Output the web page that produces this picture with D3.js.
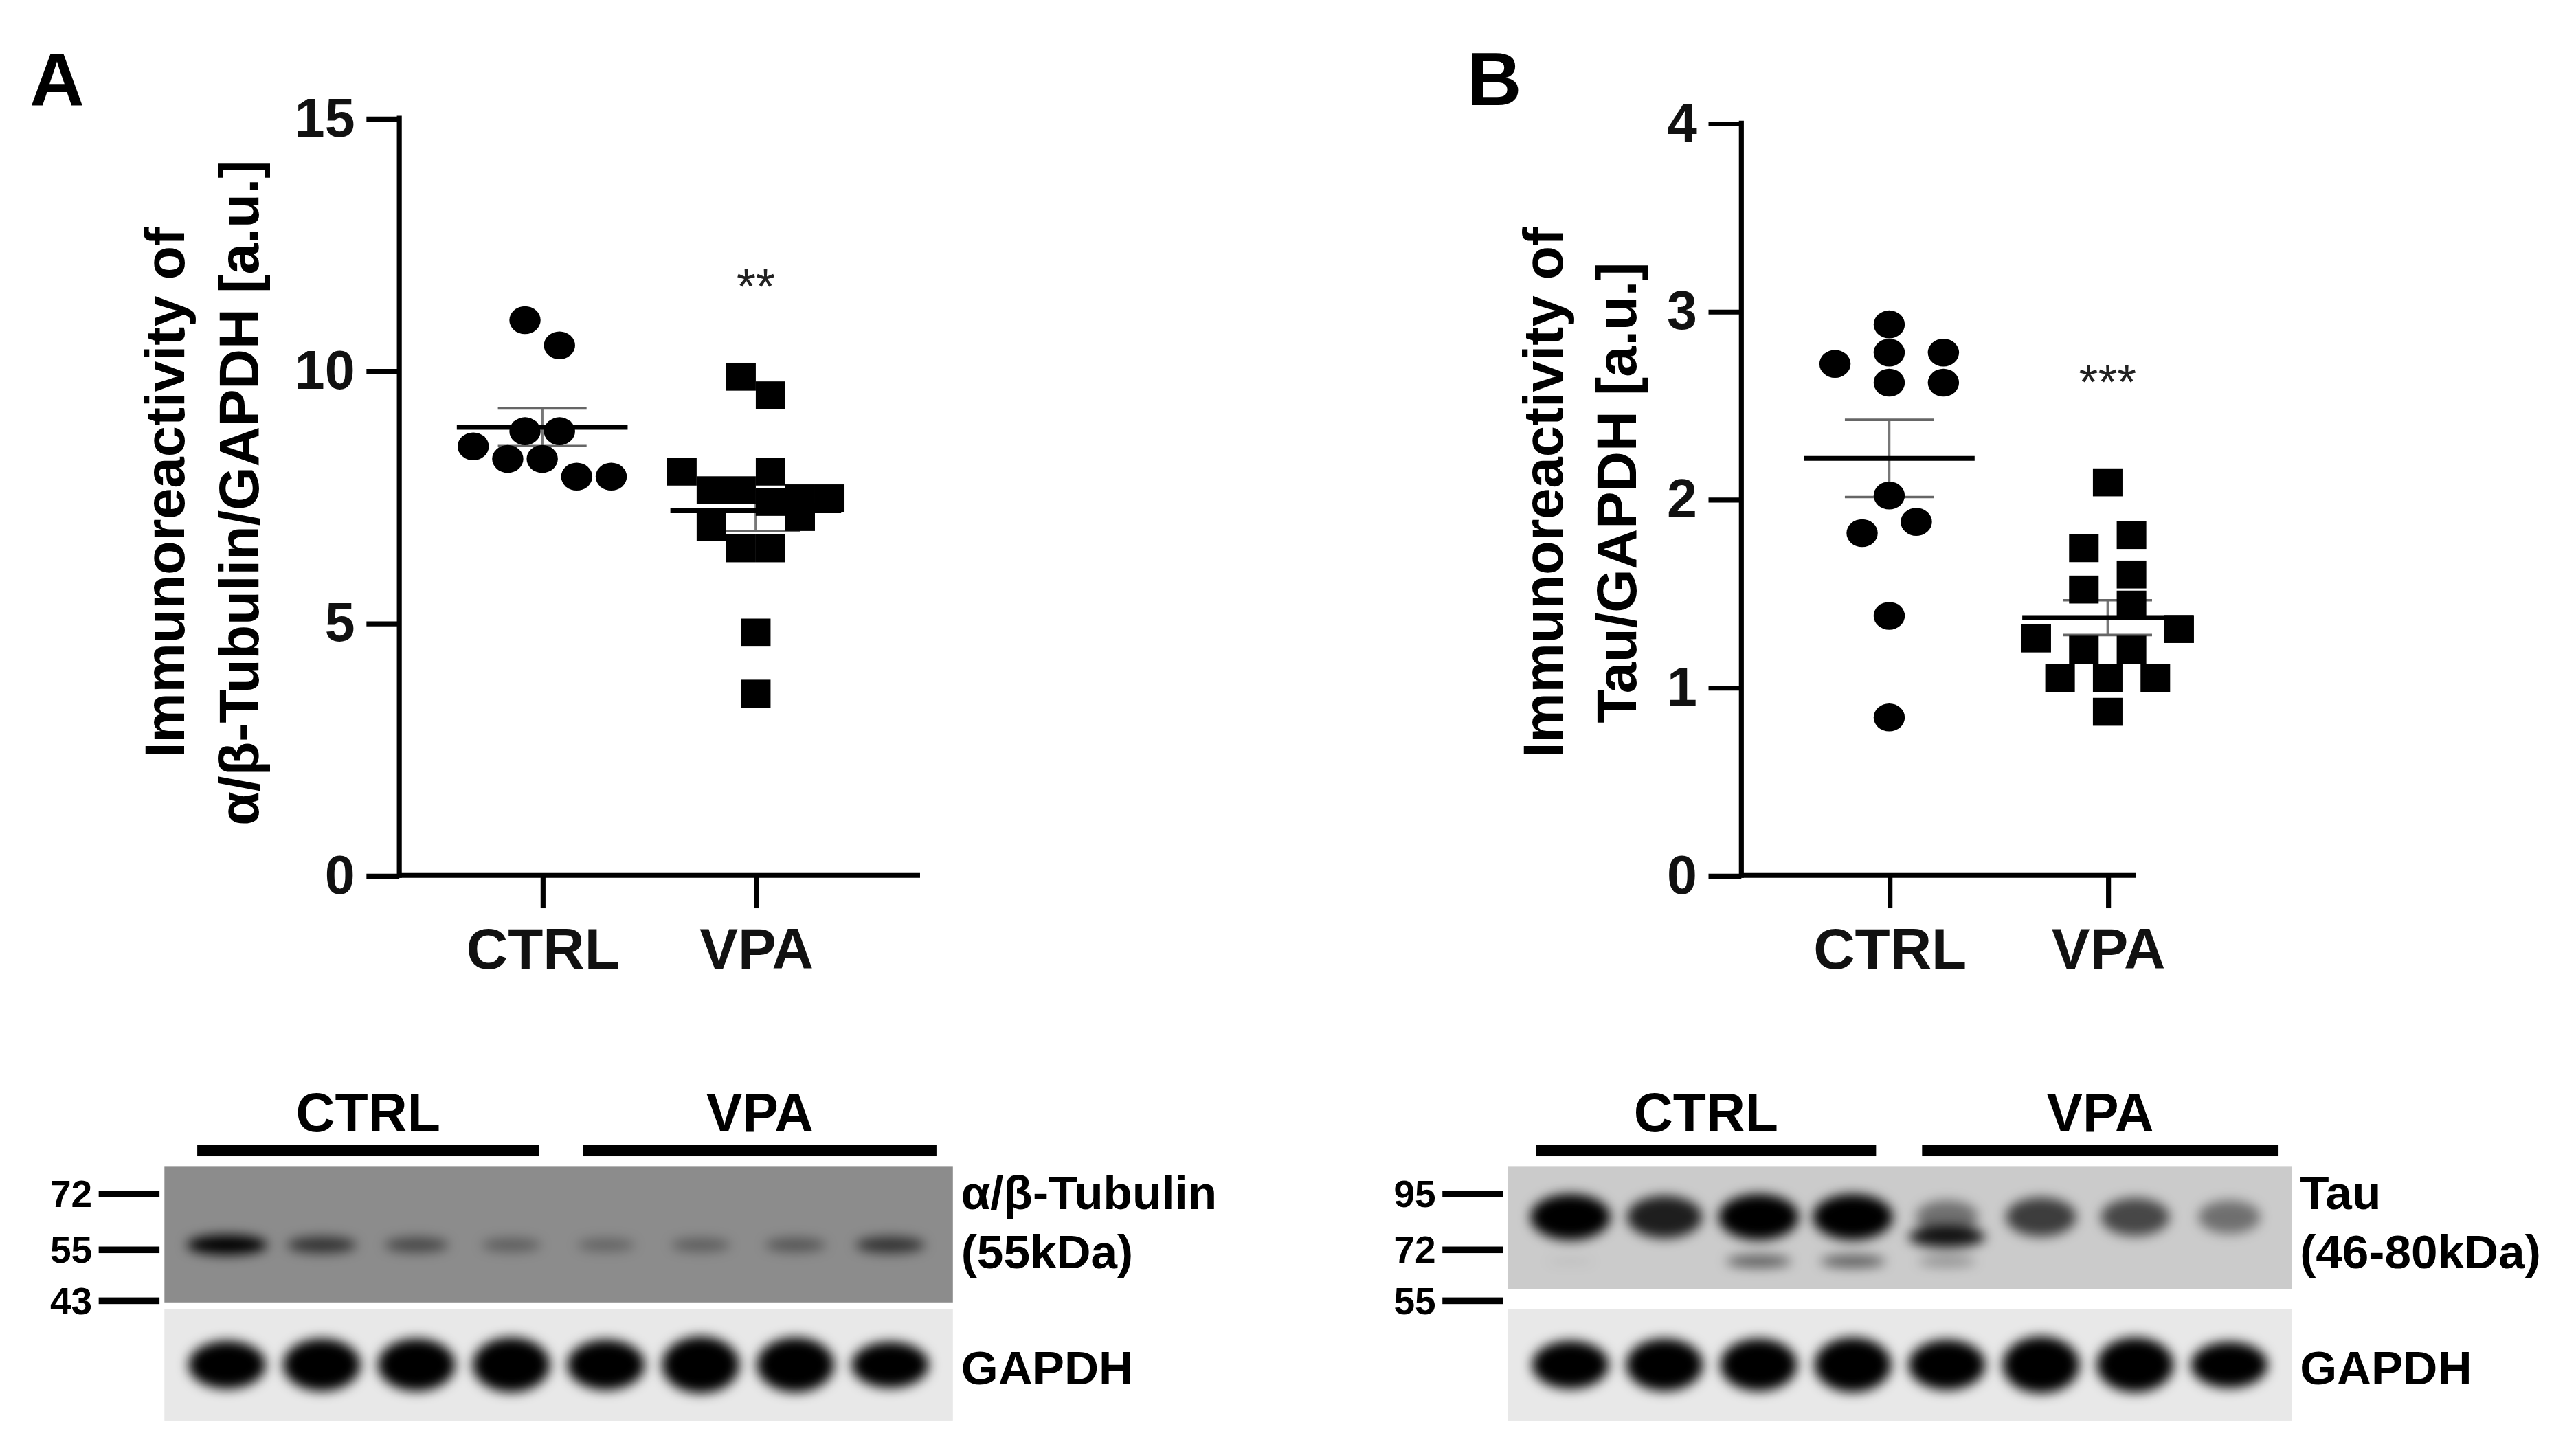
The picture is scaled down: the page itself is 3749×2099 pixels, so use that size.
<!DOCTYPE html>
<html>
<head>
<meta charset="utf-8">
<script src="https://cdn.jsdelivr.net/npm/d3@7"></script>
<style>
  body { margin: 0; background: #fff; }
  text { font-family: 'Liberation Sans', Arial, sans-serif; }
</style>
</head>
<body>
<script>
// ---- data ----
let groups = ['CTRL', 'VPA'];

// panel A: a/b-tubulin / GAPDH
let tubCtrl = [11.0, 10.5, 8.8, 8.8, 8.5, 8.25, 8.25, 7.9, 7.9];
let tubCtrlJitter = [-0.5, 0.5, -0.5, 0.5, -2, -1, 0, 1, 2];
let tubVpa = [9.88, 9.51, 8.0, 8.0, 7.63, 7.63, 7.47, 7.47, 7.4, 7.1, 6.9, 6.48, 6.48, 4.81, 3.6];
let tubVpaJitter = [-0.5, 0.5, -2.5, 0.5, -1.5, -0.5, 1.5, 2.5, 0.5, 1.5, -1.5, -0.5, 0.5, 0, 0];
let tubTicks = [0, 5, 10, 15];

// panel B: tau / GAPDH
let tauCtrl = [2.93, 2.78, 2.78, 2.72, 2.62, 2.62, 2.02, 1.88, 1.82, 1.38, 0.84];
let tauCtrlJitter = [0, 0, 1, -1, 0, 1, 0, 0.5, -0.5, 0, 0];
let tauVpa = [2.09, 1.81, 1.74, 1.6, 1.52, 1.44, 1.31, 1.26, 1.2, 1.2, 1.05, 1.05, 1.05, 0.87];
let tauVpaJitter = [0, 0.5, -0.5, 0.5, -0.5, 0.5, 1.5, -1.5, -0.5, 0.5, -1, 0, 1, 0];
let tauTicks = [0, 1, 2, 3, 4];

// blots: relative band intensity per lane (4 CTRL, 4 VPA)
let tubBand = [1.0, 0.65, 0.5, 0.35, 0.3, 0.35, 0.4, 0.65];
let tauUpper = [1.0, 0.85, 1.0, 1.0, 0.45, 0.7, 0.65, 0.45];
let tauMid = [0.0, 0.0, 0.0, 0.0, 0.9, 0.0, 0.0, 0.0];
let tauLower = [0.05, 0.0, 0.55, 0.55, 0.3, 0.0, 0.0, 0.0];
let gapdh = [0.9, 1.0, 1.0, 1.05, 0.95, 1.1, 1.05, 0.85];
let tubMarkers = ['72', '55', '43'];
let tauMarkers = ['95', '72', '55'];

// ---- drawing ----
let svg = d3.select('body').append('svg')
  .attr('width', 3749).attr('height', 2099)
  .attr('viewBox', '0 0 1568 878');

let defs = svg.append('defs');
defs.append('filter').attr('id', 'blur').attr('x', '-50%').attr('y', '-50%')
  .attr('width', '200%').attr('height', '200%')
  .append('feGaussianBlur').attr('stdDeviation', 3.5);

function scatterPanel(o) {
  let g = svg.append('g');
  let y = d3.scaleLinear().domain([0, o.max]).range([533, o.top]);
  let x = d3.scalePoint().domain(groups).range([o.x0 + o.cx[0], o.x0 + o.cx[1]]);

  g.append('text').text(o.letter).attr('x', o.letterX).attr('y', 64)
    .attr('font-size', 46).attr('font-weight', 'bold');

  // axes
  let yAxis = d3.axisLeft(y).tickValues(o.ticks).tickFormat(d3.format('d')).tickSize(20).tickPadding(7);
  let ya = g.append('g').attr('transform', 'translate(' + o.x0 + ',0)').call(yAxis);
  let xa = g.append('g').attr('transform', 'translate(0,533)')
    .call(d3.axisBottom(x).tickSize(20).tickPadding(12));
  [ya, xa].forEach(a => {
    a.selectAll('line').attr('stroke', '#000').attr('stroke-width', 3);
    a.selectAll('text').attr('font-size', 33).attr('font-weight', 'bold')
      .attr('font-family', "'Liberation Sans', Arial, sans-serif").attr('fill', '#111');
  });
  ya.select('.domain').remove();
  xa.select('.domain').remove();
  g.append('line').attr('x1', o.x0).attr('x2', o.x0).attr('y1', o.top - 1.5).attr('y2', 534.5)
    .attr('stroke', '#000').attr('stroke-width', 3);
  g.append('line').attr('x1', o.x0).attr('x2', o.xEnd).attr('y1', 533).attr('y2', 533)
    .attr('stroke', '#000').attr('stroke-width', 3);
  xa.selectAll('text').attr('font-size', 35);

  // y title
  let t = g.append('text').attr('transform', 'translate(' + o.titleX + ',300) rotate(-90)')
    .attr('text-anchor', 'middle').attr('font-size', 34).attr('font-weight', 'bold');
  t.append('tspan').attr('x', 0).attr('dy', 0).text('Immunoreactivity of');
  t.append('tspan').attr('x', 0).attr('dy', 45).text(o.title2);

  let sets = [[o.ctrl, o.ctrlJ, 'CTRL'], [o.vpa, o.vpaJ, 'VPA']];
  sets.forEach(function (s, si) {
    let vals = s[0], jit = s[1], cx = x(s[2]);
    let m = d3.mean(vals);
    let sem = d3.deviation(vals) / Math.sqrt(vals.length);
    let step = o.step[si];
    g.append('line').attr('x1', cx).attr('x2', cx).attr('y1', y(m + sem)).attr('y2', y(m - sem))
      .attr('stroke', '#777').attr('stroke-width', 1.5);
    [m + sem, m - sem].forEach(v => g.append('line')
      .attr('x1', cx - 27).attr('x2', cx + 27).attr('y1', y(v)).attr('y2', y(v))
      .attr('stroke', '#666').attr('stroke-width', 1.5));
    let pts = g.append('g');
    vals.forEach(function (v, i) {
      let px = cx + jit[i] * step;
      if (si === 0) {
        pts.append('ellipse').attr('cx', px).attr('cy', y(v)).attr('rx', 9.5).attr('ry', 8.5).attr('fill', '#000');
      } else {
        pts.append('rect').attr('x', px - 9).attr('y', y(v) - 8.5).attr('width', 18).attr('height', 17).attr('fill', '#000');
      }
    });
    g.append('line').attr('x1', cx - 52).attr('x2', cx + 52).attr('y1', y(m)).attr('y2', y(m))
      .attr('stroke', '#000').attr('stroke-width', 3);
  });
  g.append('text').text(o.star).attr('x', x('VPA')).attr('y', o.starY)
    .attr('text-anchor', 'middle').attr('font-size', 30).attr('fill', '#222');
}

scatterPanel({
  letter: 'A', letterX: 18, x0: 243, xEnd: 560, top: 72, max: 15, ticks: tubTicks,
  cx: [87, 217], ctrl: tubCtrl, ctrlJ: tubCtrlJitter, vpa: tubVpa, vpaJ: tubVpaJitter,
  step: [21, 18], titleX: 112, title2: 'α/β-Tubulin/GAPDH [a.u.]', star: '**', starY: 185
});
scatterPanel({
  letter: 'B', letterX: 893, x0: 1060, xEnd: 1300, top: 75, max: 4, ticks: tauTicks,
  cx: [90, 223], ctrl: tauCtrl, ctrlJ: tauCtrlJitter, vpa: tauVpa, vpaJ: tauVpaJitter,
  step: [33, 29], titleX: 951, title2: 'Tau/GAPDH [a.u.]', star: '***', starY: 243
});

function blot(o) {
  let g = svg.append('g');
  let lane = d3.scaleBand().domain(d3.range(8)).range([o.x0 + 5, o.x1 - 5]).padding(0.15);
  [[0, 'CTRL', o.bar1], [1, 'VPA', o.bar2]].forEach(function (b) {
    g.append('rect').attr('x', b[2][0]).attr('y', 697).attr('width', b[2][1] - b[2][0]).attr('height', 7).attr('fill', '#000');
    g.append('text').text(b[1]).attr('x', (b[2][0] + b[2][1]) / 2).attr('y', 689)
      .attr('text-anchor', 'middle').attr('font-size', 33).attr('font-weight', 'bold');
  });
  g.append('rect').attr('x', o.x0).attr('y', 710).attr('width', o.x1 - o.x0).attr('height', o.topH).attr('fill', o.topFill);
  g.append('rect').attr('x', o.x0).attr('y', 797).attr('width', o.x1 - o.x0).attr('height', 68).attr('fill', '#e8e8e8');
  let bands = g.append('g').attr('filter', 'url(#blur)');
  gapdh.forEach(function (v, i) {
    bands.append('ellipse').attr('cx', lane(i) + lane.bandwidth() / 2).attr('cy', 831)
      .attr('rx', lane.bandwidth() / 2 - 1).attr('ry', 13 * v + 3).attr('fill', '#000');
  });
  o.bands.forEach(function (bd) {
    bd.vals.forEach(function (v, i) {
      if (v <= 0) return;
      bands.append('ellipse').attr('cx', lane(i) + lane.bandwidth() / 2).attr('cy', bd.y)
        .attr('rx', lane.bandwidth() / 2 * (0.6 + 0.4 * v)).attr('ry', bd.h * (0.5 + 0.5 * v))
        .attr('fill', '#000').attr('opacity', Math.min(1, v));
    });
  });
  o.markers.forEach(function (m, i) {
    let yy = [727, 761, 792][i];
    g.append('rect').attr('x', o.x0 - 40).attr('y', yy - 2).attr('width', 37).attr('height', 4).attr('fill', '#000');
    g.append('text').text(m).attr('x', o.x0 - 44).attr('y', yy + 8).attr('text-anchor', 'end')
      .attr('font-size', 23).attr('font-weight', 'bold');
  });
  [[o.lab1, 736], [o.lab2, 772], ['GAPDH', 843]].forEach(function (l) {
    g.append('text').text(l[0]).attr('x', o.x1 + 5).attr('y', l[1])
      .attr('font-size', 29).attr('font-weight', 'bold');
  });
}

blot({
  x0: 100, x1: 580, topH: 83, topFill: '#8c8c8c', bar1: [120, 328], bar2: [355, 570],
  markers: tubMarkers, lab1: 'α/β-Tubulin', lab2: '(55kDa)',
  bands: [{ vals: tubBand, y: 758, h: 6 }]
});
blot({
  x0: 918, x1: 1395, topH: 75, topFill: '#cbcbcb', bar1: [935, 1142], bar2: [1170, 1387],
  markers: tauMarkers, lab1: 'Tau', lab2: '(46-80kDa)',
  bands: [{ vals: tauUpper, y: 741, h: 14 }, { vals: tauMid, y: 753, h: 7 }, { vals: tauLower, y: 768, h: 5 }]
});
</script>
</body>
</html>
